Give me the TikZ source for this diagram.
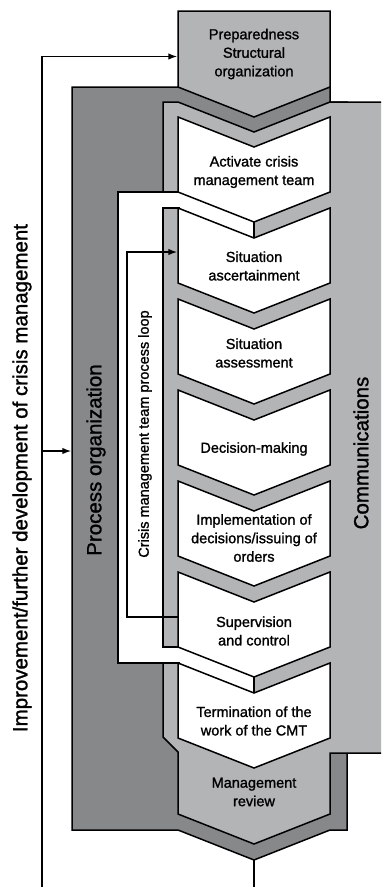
\documentclass[tikz,border=0pt]{standalone}
\usepackage{fontspec}
\setmainfont{Liberation Sans}[UprightFeatures={FakeBold=1.3}]
\usetikzlibrary{arrows.meta}
\definecolor{lg}{RGB}{178,180,182}
\definecolor{dg}{RGB}{134,136,138}
\newcommand\mychev[1]{\draw[fill=white] (178,#1) -- (254,{#1+30}) -- (330,#1) -- (330,{#1+75}) -- (254,{#1+105}) -- (178,{#1+75}) -- cycle;}
\begin{document}
\begin{tikzpicture}[x=1pt,y=-1pt, line width=1.5pt, line join=miter,
  lbl/.style={align=center, font=\fontsize{14.5}{18.5}\selectfont, inner sep=0pt},
  big/.style={font=\fontsize{20.5}{24}\selectfont, rotate=90, inner sep=0pt},
  arr/.style={-{Latex[length=9pt,width=6.5pt]}}]
\useasboundingbox (0,0) rectangle (381,887);
\begin{scope}
\clip (0,0) rectangle (381,887);
% process organization
\draw[fill=dg] (72,87) -- (330,87) -- (330,102) -- (347,102) -- (347,830) -- (330,830) -- (254,860) -- (178,830) -- (72,830) -- cycle;
% communications
\draw[fill=lg] (163,102) -- (178,102) -- (254,132) -- (330,102) -- (395,102) -- (395,753) -- (330,753) -- (330,814) -- (254,844) -- (178,814) -- (178,752) -- (163,737) -- cycle;
% preparedness
\draw[fill=lg] (178,11) -- (330,11) -- (330,87) -- (254,117) -- (178,87) -- cycle;
% white loop area
\fill[white] (118,192) -- (180,192) -- (254,222) -- (254,238) -- (180,208) -- (163,208) -- (163,647) -- (180,647) -- (254,677) -- (254,693) -- (180,663) -- (118,663) -- cycle;
\draw (180,192) -- (118,192) -- (118,663) -- (180,663);
\draw (180,208) -- (163,208) -- (163,647) -- (180,647);
\draw (254,222) -- (254,238);
\draw (254,677) -- (254,693);
% chevrons
\mychev{117}
\mychev{208}
\mychev{299}
\mychev{390}
\mychev{481}
\mychev{572}
\mychev{663}
% bottom line
\coordinate (ptip) at (254,860);
\coordinate (pend) at (254,890);
\draw (ptip) -- (pend);
% improvement loop
\coordinate (ib) at (42,890);
\coordinate (ic) at (42,56.5);
\coordinate (prepin) at (177.3,56.5);
\draw[arr] (ib) -- (ic) -- (prepin);
\coordinate (im) at (42,451);
\coordinate (poin) at (71.3,451);
\draw[arr] (im) -- (poin);
% crisis team loop
\coordinate (ls) at (178,617);
\coordinate (lc1) at (127,617);
\coordinate (lc2) at (127,252);
\coordinate (le) at (177.3,252);
\draw[arr] (ls) -- (lc1) -- (lc2) -- (le);
\end{scope}
% texts
\node[lbl] (prep) at (254,54) {Preparedness\\Structural\\organization};
\node[lbl] (act) at (254,172) {Activate crisis\\management team};
\node[lbl] (sa) at (254,266) {Situation\\ascertainment};
\node[lbl] (sas) at (254,353) {Situation\\assessment};
\node[lbl] (dm) at (254,449) {Decision-making};
\node[lbl] (impl) at (254,538) {Implementation of\\decisions/issuing of\\orders};
\node[lbl] (sup) at (254,631) {Supervision\\and control};
\node[lbl] (term) at (254,721) {Termination of the\\work of the CMT};
\node[lbl] (mr) at (254,792) {Management\\review};
\node[big] (po) at (96,460) {Process organization};
\node[lbl, rotate=90] (loop) at (145,434) {Crisis management team process loop};
\node[big] (comm) at (361,453) {Communications};
\node[big] (imp) at (22,478) {Improvement/further development of crisis management};
\end{tikzpicture}
\end{document}
